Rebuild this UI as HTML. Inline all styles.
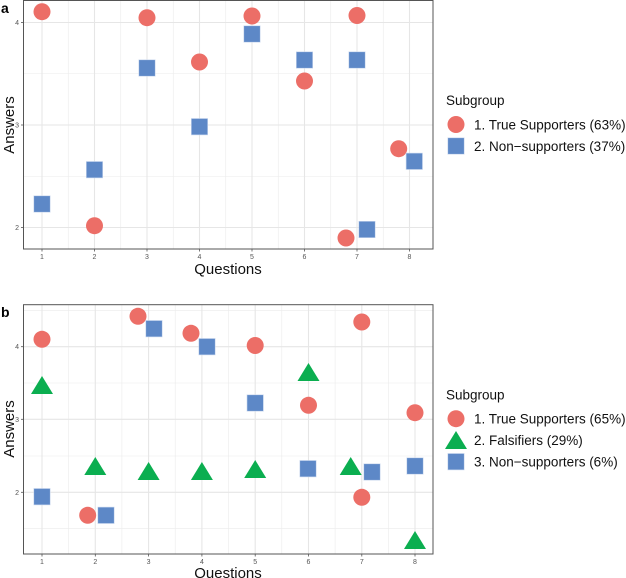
<!DOCTYPE html>
<html><head><style>
html,body{margin:0;padding:0;background:#fff;}
svg{display:block;font-family:"Liberation Sans",sans-serif;}
</style></head><body>
<svg width="626" height="578" viewBox="0 0 626 578" xmlns="http://www.w3.org/2000/svg">
<defs>
<g id="c"><circle r="8.5" fill="#EC6E67"/></g>
<g id="s"><rect x="-8.2" y="-8.2" width="16.4" height="16.4" fill="#5D88C7" stroke="#c9d7ee" stroke-width="0.6"/></g>
<g id="t"><polygon points="0,-11 11,7 -11,7" fill="#0BAE50"/></g>
</defs>
<!-- Panel a -->
<g stroke="#ebebeb" stroke-width="0.6">
<line x1="23.5" x2="433" y1="73.75" y2="73.75"/><line x1="23.5" x2="433" y1="176.25" y2="176.25"/>
<line x1="68.25" x2="68.25" y1="0" y2="249"/><line x1="120.75" x2="120.75" y1="0" y2="249"/><line x1="173.25" x2="173.25" y1="0" y2="249"/><line x1="225.75" x2="225.75" y1="0" y2="249"/><line x1="278.25" x2="278.25" y1="0" y2="249"/><line x1="330.75" x2="330.75" y1="0" y2="249"/><line x1="383.25" x2="383.25" y1="0" y2="249"/>
</g>
<g stroke="#e6e6e6" stroke-width="1.1">
<line x1="23.5" x2="433" y1="22.5" y2="22.5"/><line x1="23.5" x2="433" y1="125" y2="125"/><line x1="23.5" x2="433" y1="227.5" y2="227.5"/>
<line x1="42" x2="42" y1="0" y2="249"/><line x1="94.5" x2="94.5" y1="0" y2="249"/><line x1="147" x2="147" y1="0" y2="249"/><line x1="199.5" x2="199.5" y1="0" y2="249"/><line x1="252" x2="252" y1="0" y2="249"/><line x1="304.5" x2="304.5" y1="0" y2="249"/><line x1="357" x2="357" y1="0" y2="249"/><line x1="409.5" x2="409.5" y1="0" y2="249"/>
</g>
<use href="#c" x="42" y="11.7"/><use href="#c" x="94.5" y="225.7"/><use href="#c" x="147" y="17.7"/><use href="#c" x="199.5" y="62"/><use href="#c" x="252" y="16"/><use href="#c" x="304.5" y="81"/><use href="#c" x="357" y="15.5"/><use href="#c" x="346" y="238"/><use href="#c" x="398.7" y="148.7"/>
<use href="#s" x="42" y="204"/><use href="#s" x="94.5" y="169.7"/><use href="#s" x="147" y="68"/><use href="#s" x="199.5" y="126.7"/><use href="#s" x="252" y="34"/><use href="#s" x="304.5" y="60"/><use href="#s" x="357" y="60"/><use href="#s" x="367" y="229.5"/><use href="#s" x="414.3" y="161.3"/>
<rect x="23.5" y="0.5" width="409.5" height="248.5" fill="none" stroke="#555" stroke-width="1"/>
<g stroke="#555" stroke-width="0.8">
<line x1="21" x2="23.5" y1="22.5" y2="22.5"/><line x1="21" x2="23.5" y1="125" y2="125"/><line x1="21" x2="23.5" y1="227.5" y2="227.5"/>
<line x1="42" x2="42" y1="249" y2="251.5"/><line x1="94.5" x2="94.5" y1="249" y2="251.5"/><line x1="147" x2="147" y1="249" y2="251.5"/><line x1="199.5" x2="199.5" y1="249" y2="251.5"/><line x1="252" x2="252" y1="249" y2="251.5"/><line x1="304.5" x2="304.5" y1="249" y2="251.5"/><line x1="357" x2="357" y1="249" y2="251.5"/><line x1="409.5" x2="409.5" y1="249" y2="251.5"/>
</g>
<g font-size="7" fill="#555" text-anchor="end"><text x="19" y="25">4</text><text x="19" y="127.5">3</text><text x="19" y="230">2</text></g>
<g font-size="7" fill="#555" text-anchor="middle"><text x="42" y="259">1</text><text x="94.5" y="259">2</text><text x="147" y="259">3</text><text x="199.5" y="259">4</text><text x="252" y="259">5</text><text x="304.5" y="259">6</text><text x="357" y="259">7</text><text x="409.5" y="259">8</text></g>
<text x="228" y="274" font-size="15" text-anchor="middle" fill="#111">Questions</text>
<text transform="translate(14,125) rotate(-90)" font-size="15" text-anchor="middle" fill="#111">Answers</text>
<text x="1" y="13" font-size="14" font-weight="bold" fill="#000">a</text>
<text x="446" y="105" font-size="13.5" fill="#111">Subgroup</text>
<use href="#c" x="456" y="124.5"/><text x="474" y="129.5" font-size="13.5" fill="#111">1. True Supporters (63%)</text>
<use href="#s" x="456" y="146"/><text x="474" y="151" font-size="13.5" fill="#111">2. Non−supporters (37%)</text>

<!-- Panel b -->
<g stroke="#ebebeb" stroke-width="0.6">
<line x1="23.5" x2="433" y1="310.3" y2="310.3"/><line x1="23.5" x2="433" y1="383" y2="383"/><line x1="23.5" x2="433" y1="456" y2="456"/><line x1="23.5" x2="433" y1="528.7" y2="528.7"/>
<line x1="68.6" x2="68.6" y1="304.7" y2="554"/><line x1="121.9" x2="121.9" y1="304.7" y2="554"/><line x1="175.2" x2="175.2" y1="304.7" y2="554"/><line x1="228.5" x2="228.5" y1="304.7" y2="554"/><line x1="281.8" x2="281.8" y1="304.7" y2="554"/><line x1="335.1" x2="335.1" y1="304.7" y2="554"/><line x1="388.4" x2="388.4" y1="304.7" y2="554"/>
</g>
<g stroke="#e6e6e6" stroke-width="1.1">
<line x1="23.5" x2="433" y1="346.7" y2="346.7"/><line x1="23.5" x2="433" y1="419.3" y2="419.3"/><line x1="23.5" x2="433" y1="492.3" y2="492.3"/>
<line x1="42" x2="42" y1="304.7" y2="554"/><line x1="95.3" x2="95.3" y1="304.7" y2="554"/><line x1="148.6" x2="148.6" y1="304.7" y2="554"/><line x1="201.9" x2="201.9" y1="304.7" y2="554"/><line x1="255.2" x2="255.2" y1="304.7" y2="554"/><line x1="308.5" x2="308.5" y1="304.7" y2="554"/><line x1="361.8" x2="361.8" y1="304.7" y2="554"/><line x1="415" x2="415" y1="304.7" y2="554"/>
</g>
<use href="#c" x="42" y="339.3"/><use href="#c" x="87.7" y="515.3"/><use href="#c" x="138" y="316.3"/><use href="#c" x="191" y="333.3"/><use href="#c" x="255.2" y="345.5"/><use href="#c" x="308.5" y="405.3"/><use href="#c" x="361.8" y="322"/><use href="#c" x="361.8" y="497.3"/><use href="#c" x="415" y="412.7"/>
<use href="#t" x="42" y="387"/><use href="#t" x="95.3" y="468"/><use href="#t" x="148.6" y="473"/><use href="#t" x="201.9" y="473"/><use href="#t" x="255.2" y="471"/><use href="#t" x="308.5" y="374"/><use href="#t" x="350.7" y="468"/><use href="#t" x="415" y="542"/>
<use href="#s" x="42" y="496.7"/><use href="#s" x="106" y="515.3"/><use href="#s" x="154" y="328.7"/><use href="#s" x="207" y="346.7"/><use href="#s" x="255.2" y="403"/><use href="#s" x="308" y="468.7"/><use href="#s" x="372" y="472"/><use href="#s" x="415" y="466"/>
<rect x="23.5" y="304.7" width="409.5" height="249.3" fill="none" stroke="#555" stroke-width="1"/>
<g stroke="#555" stroke-width="0.8">
<line x1="21" x2="23.5" y1="346.7" y2="346.7"/><line x1="21" x2="23.5" y1="419.3" y2="419.3"/><line x1="21" x2="23.5" y1="492.3" y2="492.3"/>
<line x1="42" x2="42" y1="554" y2="556.5"/><line x1="95.3" x2="95.3" y1="554" y2="556.5"/><line x1="148.6" x2="148.6" y1="554" y2="556.5"/><line x1="201.9" x2="201.9" y1="554" y2="556.5"/><line x1="255.2" x2="255.2" y1="554" y2="556.5"/><line x1="308.5" x2="308.5" y1="554" y2="556.5"/><line x1="361.8" x2="361.8" y1="554" y2="556.5"/><line x1="415" x2="415" y1="554" y2="556.5"/>
</g>
<g font-size="7" fill="#555" text-anchor="end"><text x="19" y="349.2">4</text><text x="19" y="421.8">3</text><text x="19" y="494.8">2</text></g>
<g font-size="7" fill="#555" text-anchor="middle"><text x="42" y="564">1</text><text x="95.3" y="564">2</text><text x="148.6" y="564">3</text><text x="201.9" y="564">4</text><text x="255.2" y="564">5</text><text x="308.5" y="564">6</text><text x="361.8" y="564">7</text><text x="415" y="564">8</text></g>
<text x="228" y="578" font-size="15" text-anchor="middle" fill="#111">Questions</text>
<text transform="translate(14,429) rotate(-90)" font-size="15" text-anchor="middle" fill="#111">Answers</text>
<text x="1" y="317" font-size="14" font-weight="bold" fill="#000">b</text>
<text x="446" y="399.5" font-size="13.5" fill="#111">Subgroup</text>
<use href="#c" x="456" y="418.7"/><text x="474" y="423.5" font-size="13.5" fill="#111">1. True Supporters (65%)</text>
<use href="#t" x="456" y="442"/><text x="474" y="445" font-size="13.5" fill="#111">2. Falsifiers (29%)</text>
<use href="#s" x="456" y="461.7"/><text x="474" y="466.5" font-size="13.5" fill="#111">3. Non−supporters (6%)</text>
</svg>
</body></html>
